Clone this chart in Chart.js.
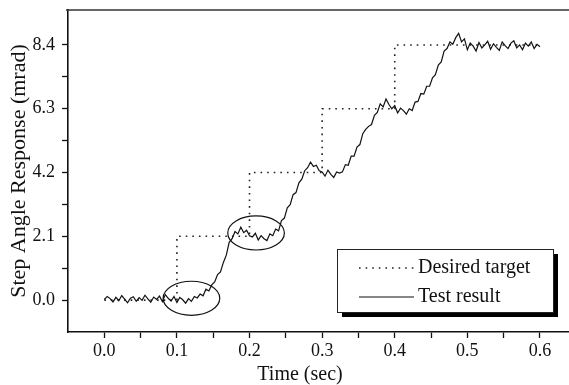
<!DOCTYPE html>
<html>
<head>
<meta charset="utf-8">
<title>Step Angle Response</title>
<script src="https://cdn.jsdelivr.net/npm/chart.js@4.4.1/dist/chart.umd.min.js"></script>
<style>
    html, body { margin: 0; padding: 0; background: #fff; overflow: hidden; }
    .chart-wrap { width: 569px; height: 385px; }
</style>
</head>
<body>
<div class="chart-wrap"><canvas id="stepChart"></canvas></div>
<script>
// Desired target (step command)
const targetTime = [0, 0.1, 0.2, 0.3, 0.4, 0.6];
const targetAngle = [0, 2.1, 4.2, 6.3, 8.4, 8.4];

const testTime = [
    0.000, 0.004, 0.008, 0.012, 0.016, 0.020, 0.024, 0.028, 0.032, 0.036,
    0.040, 0.044, 0.048, 0.052, 0.056, 0.060, 0.064, 0.068, 0.072, 0.076,
    0.080, 0.084, 0.088, 0.092, 0.096, 0.100, 0.104, 0.108, 0.112, 0.116,
    0.120, 0.124, 0.128, 0.132, 0.136, 0.140, 0.144, 0.148, 0.152, 0.156,
    0.160, 0.164, 0.168, 0.172, 0.176, 0.180, 0.184, 0.188, 0.192, 0.196,
    0.200, 0.204, 0.208, 0.212, 0.216, 0.220, 0.224, 0.228, 0.232, 0.236,
    0.240, 0.244, 0.248, 0.252, 0.256, 0.260, 0.264, 0.268, 0.272, 0.276,
    0.280, 0.284, 0.288, 0.292, 0.296, 0.300, 0.304, 0.308, 0.312, 0.316,
    0.320, 0.324, 0.328, 0.332, 0.336, 0.340, 0.344, 0.348, 0.352, 0.356,
    0.360, 0.364, 0.368, 0.372, 0.376, 0.380, 0.384, 0.388, 0.392, 0.396,
    0.400, 0.404, 0.408, 0.412, 0.416, 0.420, 0.424, 0.428, 0.432, 0.436,
    0.440, 0.444, 0.448, 0.452, 0.456, 0.460, 0.464, 0.468, 0.472, 0.476,
    0.480, 0.484, 0.488, 0.492, 0.496, 0.500, 0.504, 0.508, 0.512, 0.516,
    0.520, 0.524, 0.528, 0.532, 0.536, 0.540, 0.544, 0.548, 0.552, 0.556,
    0.560, 0.564, 0.568, 0.572, 0.576, 0.580, 0.584, 0.588, 0.592, 0.596,
    0.600
];
const testAngle = [
    0.02, 0.12, 0.05, -0.06, 0.09, -0.02, 0.15, 0.03, -0.09, 0.06,
    0.11, -0.04, 0.08, -0.01, 0.16, 0.04, -0.07, 0.10, 0.02, 0.13,
    -0.05, 0.18, 0.06, -0.03, 0.12, -0.08, 0.09, 0.01, -0.10, 0.05,
    -0.04, 0.12, 0.07, 0.20, 0.14, 0.36, 0.30, 0.50, 0.60, 0.84,
    0.93, 1.24, 1.48, 1.90, 2.02, 2.26, 2.18, 2.40, 2.22, 2.30,
    2.12, 2.08, 2.20, 1.98, 2.12, 2.02, 1.96, 2.18, 2.12, 2.34,
    2.28, 2.62, 2.70, 3.04, 3.14, 3.47, 3.54, 3.86, 3.98, 4.26,
    4.36, 4.54, 4.40, 4.44, 4.26, 4.22, 4.08, 4.28, 4.14, 4.04,
    4.22, 4.18, 4.22, 4.46, 4.44, 4.74, 4.74, 5.04, 5.12, 5.48,
    5.62, 5.72, 5.78, 6.08, 6.18, 6.46, 6.36, 6.62, 6.44, 6.30,
    6.40, 6.16, 6.32, 6.24, 6.12, 6.30, 6.24, 6.52, 6.54, 6.80,
    6.78, 7.04, 7.04, 7.32, 7.42, 7.74, 7.84, 8.20, 8.28, 8.50,
    8.42, 8.64, 8.78, 8.50, 8.60, 8.24, 8.46, 8.36, 8.20, 8.48,
    8.30, 8.40, 8.52, 8.26, 8.44, 8.32, 8.22, 8.50, 8.38, 8.28,
    8.46, 8.54, 8.30, 8.40, 8.24, 8.46, 8.36, 8.50, 8.28, 8.42,
    8.34
];

// Axis ticks
const xTicks = [0, 0.1, 0.2, 0.3, 0.4, 0.5, 0.6];
const xMinorTicks = [0.05, 0.15, 0.25, 0.35, 0.45, 0.55];
const yTicks = [0, 2.1, 4.2, 6.3, 8.4];
const yMinorTicks = [1.05, 3.15, 5.25, 7.35];

// Circled regions (centre and radii in data units)
const circleCenterX = [0.120, 0.209];
const circleCenterY = [0.06, 2.21];
const circleRadiusX = 0.039;
const circleRadiusY = 0.56;

const SERIF = "'Liberation Serif', 'Times New Roman', serif";

function toPoints(xs, ys) {
    return xs.map((x, i) => ({ x: x, y: ys[i] }));
}

function withMinor(major, minor) {
    return major.concat(minor).sort((a, b) => a - b).map(v => ({ value: v }));
}

function isMajor(list, value) {
    return list.some(v => Math.abs(v - value) < 1e-6);
}

// Top frame line (the right edge of the frame falls outside the picture)
// plus the x axis title, which sits a bit left of the plot centre in the original
const framePlugin = {
    id: 'frame',
    afterDraw(chart) {
        const { ctx, chartArea } = chart;
        ctx.save();
        ctx.strokeStyle = '#333';
        ctx.lineWidth = 1.6;
        ctx.beginPath();
        ctx.moveTo(chartArea.left - 2, chartArea.top);
        ctx.lineTo(chartArea.right, chartArea.top);
        ctx.stroke();

        ctx.fillStyle = '#111';
        ctx.font = '20px ' + SERIF;
        ctx.textAlign = 'center';
        ctx.textBaseline = 'middle';
        ctx.fillText('Time (sec)', chartArea.left + 232, chartArea.bottom + 43);
        ctx.restore();
    }
};

// Ellipses around the transition regions
const circlePlugin = {
    id: 'circles',
    afterDatasetsDraw(chart) {
        const { ctx } = chart;
        const xs = chart.scales.x;
        const ys = chart.scales.y;
        ctx.save();
        ctx.strokeStyle = '#111';
        ctx.lineWidth = 1.2;
        circleCenterX.forEach((cx, i) => {
            const px = xs.getPixelForValue(cx);
            const py = ys.getPixelForValue(circleCenterY[i]);
            const rx = Math.abs(xs.getPixelForValue(cx + circleRadiusX) - px);
            const ry = Math.abs(ys.getPixelForValue(circleCenterY[i] + circleRadiusY) - py);
            ctx.beginPath();
            ctx.ellipse(px, py, rx, ry, 0, 0, Math.PI * 2);
            ctx.stroke();
        });
        ctx.restore();
    }
};

// Boxed legend with a drop shadow, lower right of the plot
const boxLegendPlugin = {
    id: 'boxLegend',
    afterDraw(chart) {
        const { ctx, chartArea } = chart;
        const w = 216, h = 63;
        const right = chartArea.right - 16;
        const bottom = chartArea.bottom - 20;
        const left = right - w;
        const top = bottom - h;

        ctx.save();
        ctx.fillStyle = '#000';
        ctx.fillRect(left + 5, top + 5, w, h);
        ctx.fillStyle = '#fff';
        ctx.fillRect(left, top, w, h);
        ctx.strokeStyle = '#222';
        ctx.lineWidth = 1;
        ctx.strokeRect(left + 0.5, top + 0.5, w, h);

        const order = [1, 0]; // target first, then test result
        const rowY = [top + 19, top + 48];
        order.forEach((dsIndex, row) => {
            const ds = chart.data.datasets[dsIndex];
            ctx.strokeStyle = ds.borderColor;
            ctx.lineWidth = ds.borderWidth;
            ctx.setLineDash(ds.borderDash || []);
            ctx.beginPath();
            ctx.moveTo(left + 22, rowY[row]);
            ctx.lineTo(left + 77, rowY[row]);
            ctx.stroke();
            ctx.setLineDash([]);
            ctx.fillStyle = '#111';
            ctx.font = '20px ' + SERIF;
            ctx.textBaseline = 'middle';
            ctx.textAlign = 'left';
            ctx.fillText(ds.label, left + 81, rowY[row]);
        });
        ctx.restore();
    }
};

const ctx = document.getElementById('stepChart');
new Chart(ctx, {
    type: 'line',
    data: {
        datasets: [
            {
                label: 'Test result',
                data: toPoints(testTime, testAngle),
                borderColor: '#111',
                borderWidth: 1.2,
                pointRadius: 0,
                tension: 0
            },
            {
                label: 'Desired target',
                data: toPoints(targetTime, targetAngle),
                borderColor: '#222',
                borderWidth: 1.6,
                borderDash: [1.6, 5],
                stepped: true,
                pointRadius: 0
            }
        ]
    },
    options: {
        responsive: true,
        maintainAspectRatio: false,
        animation: false,
        events: [],
        layout: {
            padding: { top: 10, left: 0, right: 0, bottom: 0 }
        },
        scales: {
            x: {
                type: 'linear',
                min: -0.05,
                max: 0.64,
                afterBuildTicks: scale => { scale.ticks = withMinor(xTicks, xMinorTicks); },
                afterFit: scale => {
                    scale.height = 53;
                    scale.paddingLeft = 0;
                    scale.paddingRight = 0;
                },
                ticks: {
                    autoSkip: false,
                    maxRotation: 0,
                    padding: 2,
                    color: '#111',
                    font: { family: SERIF, size: 18 },
                    callback: value => isMajor(xTicks, value) ? value.toFixed(1) : ''
                },
                grid: {
                    drawOnChartArea: false,
                    drawTicks: true,
                    tickLength: 6,
                    tickColor: '#111',
                    tickWidth: 1.3
                },
                border: { color: '#111', width: 1.6 },
                title: { display: false }
            },
            y: {
                type: 'linear',
                min: -1.05,
                max: 9.55,
                afterBuildTicks: scale => { scale.ticks = withMinor(yTicks, yMinorTicks); },
                afterFit: scale => {
                    scale.width = 68;
                    scale.paddingTop = 0;
                    scale.paddingBottom = 0;
                },
                ticks: {
                    autoSkip: false,
                    padding: 7,
                    color: '#111',
                    font: { family: SERIF, size: 18 },
                    callback: value => isMajor(yTicks, value) ? value.toFixed(1) : ''
                },
                grid: {
                    drawOnChartArea: false,
                    drawTicks: true,
                    tickLength: 6,
                    tickColor: '#111',
                    tickWidth: 1.3
                },
                border: { color: '#111', width: 1.6 },
                title: {
                    display: true,
                    text: 'Step Angle Response (mrad)',
                    color: '#111',
                    font: { family: SERIF, size: 22, lineHeight: 1 },
                    padding: { top: 8, bottom: 0 }
                }
            }
        },
        plugins: {
            legend: { display: false },
            tooltip: { enabled: false }
        }
    },
    plugins: [framePlugin, circlePlugin, boxLegendPlugin]
});
</script>
</body>
</html>
